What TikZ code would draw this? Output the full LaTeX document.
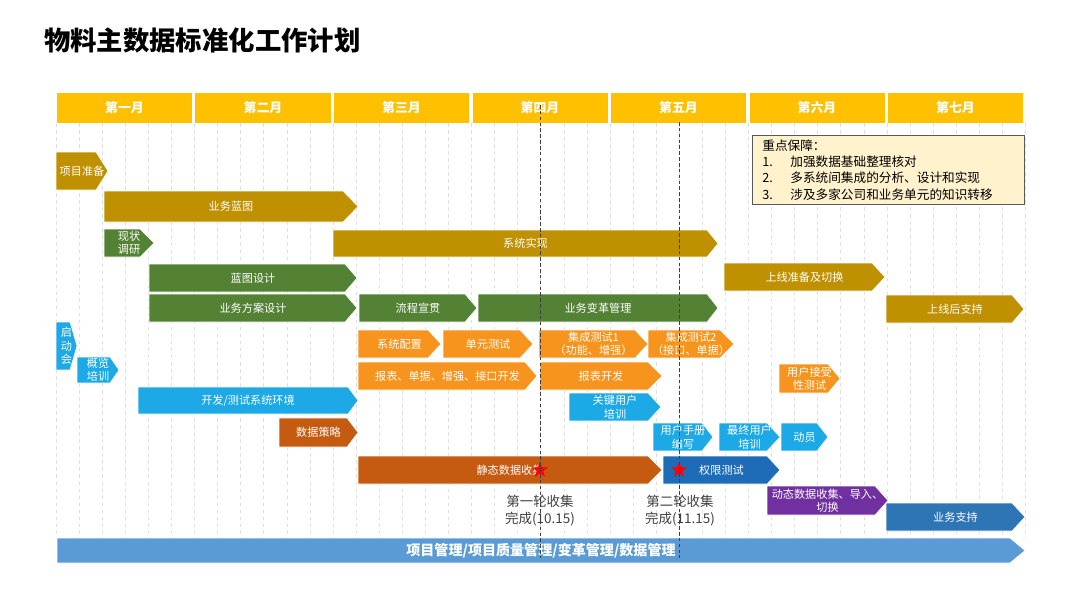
\documentclass[tikz,border=0pt]{standalone}
\usepackage{fontspec}
\setmainfont{Noto Sans CJK SC}
\usetikzlibrary{shapes.geometric}

\definecolor{hdrgold}{HTML}{FFC000}
\definecolor{taskgold}{HTML}{BF9000}
\definecolor{taskgreen}{HTML}{548235}
\definecolor{taskorange}{HTML}{F7941D}
\definecolor{taskcyan}{HTML}{1CA9E6}
\definecolor{taskrust}{HTML}{C55A11}
\definecolor{taskblue}{HTML}{1E6BB8}
\definecolor{taskpurple}{HTML}{7030A0}
\definecolor{supportblue}{HTML}{2E75B6}
\definecolor{mgmtblue}{HTML}{5B9BD5}
\definecolor{notefill}{HTML}{FFF2CC}
\definecolor{labelgray}{HTML}{404040}

\tikzset{
  bartext/.style={text=white, font=\fontsize{9.5}{11.5}\selectfont, align=center, inner sep=0pt},
  monthbox/.style={fill=hdrgold, minimum width=4.05cm, minimum height=0.9cm, inner sep=0pt,
    text=white, font=\bfseries\fontsize{11}{13}\selectfont},
  gridline/.style={gray!25, dashed, line width=0.4pt},
  milestone/.style={densely dashed, black!75, line width=0.6pt},
  redstar/.style={star, star points=5, star point ratio=2.4, fill=red, minimum size=0.5cm, inner sep=0pt},
}

% one chevron bar: x start, body end, tip, top, bottom, colour, text, name
\newcommand{\taskbar}[8]{%
  \filldraw[fill=#6, draw=white, line width=0.5pt]
    (#1,#4) -- (#2,#4) -- (#3,{(#4+#5)/2}) -- (#2,#5) -- (#1,#5) -- cycle;
  \node[bartext] (#8) at ({(#1+#3)/2},{(#4+#5)/2}) {#7};
}

\begin{document}
\begin{tikzpicture}[x=0.03cm, y=-0.03cm]
\useasboundingbox (0,0) rectangle (1080,607);

\node[anchor=west, font=\bfseries\fontsize{22.5}{26}\selectfont] (title) at (40,40) {物料主数据标准化工作计划};

% week grid
\foreach \i in {0,...,42}
  \draw[gridline] ({56+\i*23.08},123) -- ({56+\i*23.08},538);

% month header
\foreach \m [count=\i from 0] in {第一月,第二月,第三月,第四月,第五月,第六月,第七月}
  \node[monthbox] (month\i) at ({124.5+\i*138.5},108) {\m};

% tasks
\taskbar{56}{96}{108}{152}{190}{taskgold}{项目准备}{prep}
\taskbar{104}{343}{358}{191}{222}{taskgold}{业务蓝图}{blueprint}
\taskbar{104}{140}{154}{229}{257}{taskgreen}{现状\\调研}{survey}
\taskbar{333}{707}{718}{230}{257}{taskgold}{系统实现}{realize}
\taskbar{149}{345}{357}{264}{292}{taskgreen}{蓝图设计}{bpdesign}
\taskbar{149}{345}{357}{294}{322}{taskgreen}{业务方案设计}{solution}
\taskbar{359}{465}{477}{294}{322}{taskgreen}{流程宣贯}{process}
\taskbar{478}{707}{718}{294}{322}{taskgreen}{业务变革管理}{change}
\taskbar{724}{872}{885}{263}{291}{taskgold}{上线准备及切换}{golive}
\taskbar{886}{1012}{1024}{295}{323}{taskgold}{上线后支持}{postlive}
\taskbar{56}{70}{77}{322}{370}{taskcyan}{启\\动\\会}{kickoff}
\taskbar{77}{110}{119}{357}{383}{taskcyan}{概览\\培训}{overview}
\taskbar{358}{428}{441}{330}{358}{taskorange}{系统配置}{config}
\taskbar{443}{520}{533}{330}{358}{taskorange}{单元测试}{unittest}
\taskbar{539}{635}{648}{330}{358}{taskorange}{集成测试1\\（功能、增强）}{sitone}
\taskbar{648}{720}{734}{330}{358}{taskorange}{集成测试2\\（接口、单据）}{sittwo}
\taskbar{358}{525}{537}{362}{390}{taskorange}{报表、单据、增强、接口开发}{ricef}
\taskbar{540}{648}{662}{362}{390}{taskorange}{报表开发}{reports}
\taskbar{779}{828}{840}{364}{393}{taskorange}{用户接受\\性测试}{uat}
\taskbar{138}{348}{358}{387}{414}{taskcyan}{开发/测试系统环境}{devenv}
\taskbar{569}{648}{661}{393}{421}{taskcyan}{关键用户\\培训}{keyuser}
\taskbar{279}{347}{358}{418}{447}{taskrust}{数据策略}{datastrategy}
\taskbar{653}{702}{713}{423}{451}{taskcyan}{用户手册\\编写}{manual}
\taskbar{719}{767}{780}{423}{451}{taskcyan}{最终用户\\培训}{enduser}
\taskbar{781}{817}{828}{423}{451}{taskcyan}{动员}{mobilize}
\taskbar{358}{648}{662}{456}{484}{taskrust}{静态数据收集}{staticdata}
\taskbar{663}{767}{780}{456}{484}{taskblue}{权限测试}{authtest}
\taskbar{767}{875}{888}{486}{515}{taskpurple}{动态数据收集、导入、\\切换}{dyndata}
\taskbar{886}{1012}{1025}{503}{531}{supportblue}{业务支持}{support}
\taskbar{57}{1010}{1025}{538}{563}{mgmtblue}{\bfseries\fontsize{12}{14}\selectfont 项目管理/项目质量管理/变革管理/数据管理}{mgmt}

% key points
\node[draw=black!65, fill=notefill, line width=0.6pt, anchor=north west, text width=7.56cm,
  inner xsep=0.3cm, inner ysep=0.12cm, align=left, font=\fontsize{10.8}{14}\selectfont] (keys) at (752,135)
  {重点保障：\\
   \makebox[0.84cm][l]{1.}加强数据基础整理核对\\
   \makebox[0.84cm][l]{2.}多系统间集成的分析、设计和实现\\
   \makebox[0.84cm][l]{3.}涉及多家公司和业务单元的知识转移};

% milestones
\node[redstar] (starone) at (540,470) {};
\node[redstar] (startwo) at (679,470) {};
\node[text=labelgray, align=center, font=\fontsize{11.5}{14.5}\selectfont] (roundone) at (540,511) {第一轮收集\\完成(10.15)};
\node[text=labelgray, align=center, font=\fontsize{11.5}{14.5}\selectfont] (roundtwo) at (680,511) {第二轮收集\\完成(11.15)};
\coordinate (topone) at (540,105);
\coordinate (botone) at (540,558);
\coordinate (toptwo) at (679,122);
\coordinate (bottwo) at (679,558);
\draw[milestone] (topone) -- (botone);
\draw[milestone] (toptwo) -- (bottwo);
\end{tikzpicture}
\end{document}
